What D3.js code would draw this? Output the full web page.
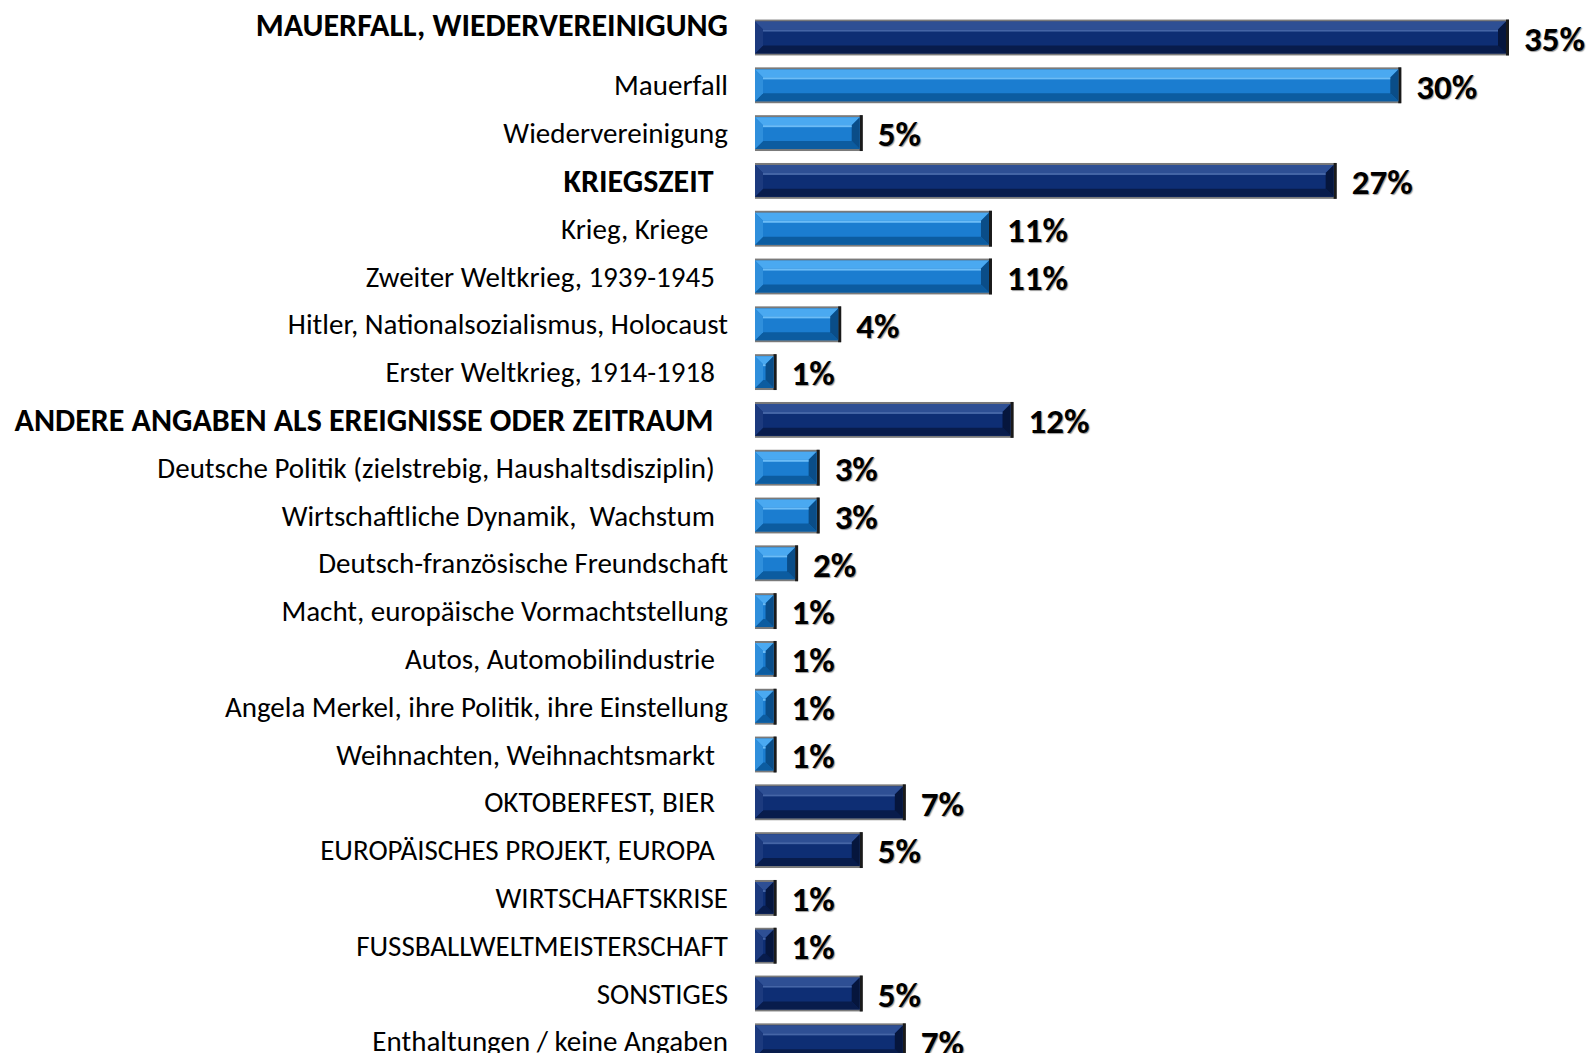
<!doctype html>
<html lang="de">
    <head>
        <meta charset="utf-8">
        <title>Deutschland Assoziationen</title>
        <script src="https://cdn.jsdelivr.net/npm/d3@7"></script>
        <style>
            body { margin: 0; background: #fff; }
            text { font-family: Carlito, Calibri, Lato, sans-serif; white-space: pre; }
        </style>
    </head>
    <body>
        <script>
            var categories = [
                "MAUERFALL, WIEDERVEREINIGUNG",
                "Mauerfall",
                "Wiedervereinigung",
                "KRIEGSZEIT  ",
                "Krieg, Kriege   ",
                "Zweiter Weltkrieg, 1939-1945  ",
                "Hitler, Nationalsozialismus, Holocaust",
                "Erster Weltkrieg, 1914-1918  ",
                "ANDERE ANGABEN ALS EREIGNISSE ODER ZEITRAUM  ",
                "Deutsche Politik (zielstrebig, Haushaltsdisziplin)  ",
                "Wirtschaftliche Dynamik,  Wachstum  ",
                "Deutsch-französische Freundschaft",
                "Macht, europäische Vormachtstellung",
                "Autos, Automobilindustrie  ",
                "Angela Merkel, ihre Politik, ihre Einstellung",
                "Weihnachten, Weihnachtsmarkt  ",
                "OKTOBERFEST, BIER  ",
                "EUROPÄISCHES PROJEKT, EUROPA  ",
                "WIRTSCHAFTSKRISE",
                "FUSSBALLWELTMEISTERSCHAFT",
                "SONSTIGES",
                "Enthaltungen / keine Angaben"
            ];
            var values = [35, 30, 5, 27, 11, 11, 4, 1, 12, 3, 3, 2, 1, 1, 1, 1, 7, 5, 1, 1, 5, 7];
            // sub items get the light blue bar, the rest the dark one
            var subItems = [false, true, true, false, true, true, true, true, false, true, true, true, true, true, true, true,
                            false, false, false, false, false, false];
            // the three group headings are set in bold
            var boldItems = [true, false, false, true, false, false, false, false, true, false, false, false, false, false, false, false,
                             false, false, false, false, false, false];

            var svgW = 1590, svgH = 1053;
            var labelRight = 728;

            var svg = d3.select("body").append("svg")
                        .attr("width", svgW)
                        .attr("height", svgH);

            var xScale = d3.scaleLinear()
                           .domain([0, 35])
                           .range([755, 1509]);

            var step = 47.8;
            var yScale = d3.scaleBand()
                           .domain(d3.range(categories.length))
                           .range([13.6, 13.6 + step * categories.length])
                           .paddingInner(0.25)
                           .paddingOuter(0.125);

            var colors = {
                dark:  {base: "#0e2e74", top: "#2e4f94", hi: "#4565a6", bottom: "#081c4c", left: "#1c3a7e", right: "#06163d"},
                light: {base: "#1b7dd0", top: "#4aa9f1", hi: "#6cbcf6", bottom: "#0c5ca0", left: "#2f8fdc", right: "#0a4d88"}
            };

            var rows = categories.map(function(c, i) {
                return {label: c, value: values[i], sub: subItems[i], bold: boldItems[i], i: i};
            });

            var bars = svg.selectAll("g.bar")
                          .data(rows)
                          .enter()
                          .append("g")
                          .attr("class", "bar");

            bars.each(function(d) {
                var g = d3.select(this);
                var x0 = xScale(0), x1 = xScale(d.value);
                var y0 = yScale(d.i), h = yScale.bandwidth();
                var w = x1 - x0;
                var c = d.sub ? colors.light : colors.dark;

                // grey frame
                g.append("rect").attr("x", x0).attr("y", y0).attr("width", w).attr("height", h).attr("fill", "#7a7a7a");
                var ix0 = x0, ix1 = x1 - 3, iy0 = y0 + 2, iy1 = y0 + h - 2;
                g.append("rect").attr("x", x1 - 3).attr("y", y0).attr("width", 3).attr("height", h).attr("fill", "#1a1a1a");
                g.append("rect").attr("x", ix0).attr("y", iy0).attr("width", ix1 - ix0).attr("height", iy1 - iy0).attr("fill", c.base);

                var b = Math.min(8, (ix1 - ix0) / 2, (iy1 - iy0) / 2);
                var pts = function(a) { return a.map(function(p) { return p.join(","); }).join(" "); };
                g.append("polygon").attr("points", pts([[ix0, iy0], [ix1, iy0], [ix1 - b, iy0 + b], [ix0 + b, iy0 + b]])).attr("fill", c.top);
                g.append("polygon").attr("points", pts([[ix0, iy1], [ix1, iy1], [ix1 - b, iy1 - b], [ix0 + b, iy1 - b]])).attr("fill", c.bottom);
                g.append("polygon").attr("points", pts([[ix0, iy0], [ix0 + b, iy0 + b], [ix0 + b, iy1 - b], [ix0, iy1]])).attr("fill", c.left);
                g.append("polygon").attr("points", pts([[ix1, iy0], [ix1 - b, iy0 + b], [ix1 - b, iy1 - b], [ix1, iy1]])).attr("fill", c.right);
                g.append("rect").attr("x", ix0 + b).attr("y", iy0 + b).attr("width", Math.max(0, ix1 - ix0 - 2 * b)).attr("height", 2).attr("fill", c.hi);
            });

            // category labels
            svg.selectAll("text.cat")
               .data(rows)
               .enter()
               .append("text")
               .attr("class", "cat")
               .attr("x", labelRight)
               .attr("y", d => yScale(d.i) + yScale.bandwidth() / 2)
               .attr("dy", d => d.i === 0 ? "-0.05em" : "0.35em")
               .attr("text-anchor", "end")
               .attr("font-size", d => d.bold ? 32 : 29)
               .attr("font-weight", d => d.bold ? "bold" : "normal")
               .attr("fill", "#000")
               .text(d => d.label);

            // value labels
            svg.selectAll("text.val")
               .data(rows)
               .enter()
               .append("text")
               .attr("class", "val")
               .attr("x", d => xScale(d.value) + 15)
               .attr("y", d => yScale(d.i) + yScale.bandwidth() / 2)
               .attr("dy", "0.38em")
               .attr("font-size", 35)
               .attr("font-weight", 900)
               .attr("fill", "#000")
               .style("text-shadow", "1px 1px 1px #999")
               .text(d => d.value + "%");
        </script>
    </body>
</html>
